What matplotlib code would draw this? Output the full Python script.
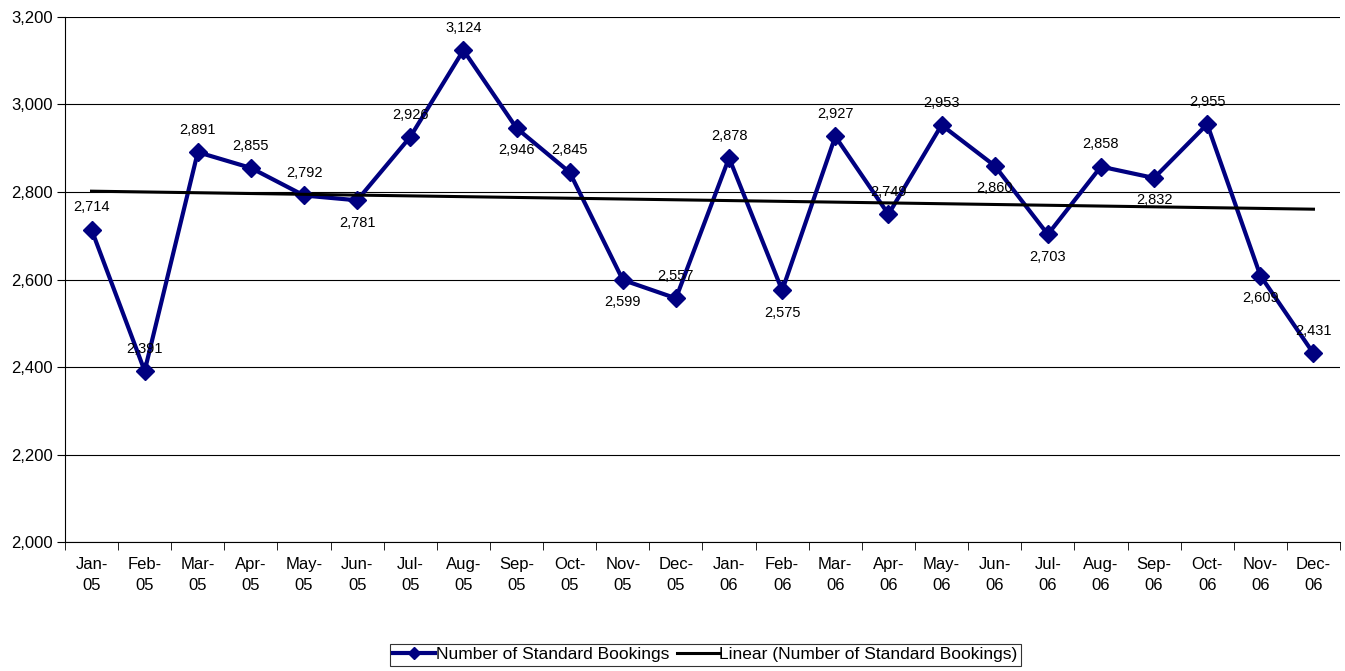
from matplotlib import pyplot as plt
import numpy as np

plt.rcParams['font.family'] = ['Liberation Sans', 'DejaVu Sans']

months = ['Jan-\n05', 'Feb-\n05', 'Mar-\n05', 'Apr-\n05', 'May-\n05', 'Jun-\n05',
          'Jul-\n05', 'Aug-\n05', 'Sep-\n05', 'Oct-\n05', 'Nov-\n05', 'Dec-\n05',
          'Jan-\n06', 'Feb-\n06', 'Mar-\n06', 'Apr-\n06', 'May-\n06', 'Jun-\n06',
          'Jul-\n06', 'Aug-\n06', 'Sep-\n06', 'Oct-\n06', 'Nov-\n06', 'Dec-\n06']
bookings = [2714, 2391, 2891, 2855, 2792, 2781, 2926, 3124, 2946, 2845, 2599, 2557,
            2878, 2575, 2927, 2749, 2953, 2860, 2703, 2858, 2832, 2955, 2609, 2431]
# where each data label sits relative to its point: 1 above, -1 below
label_side = [1, 1, 1, 1, 1, -1, 1, 1, -1, 1, -1, 1,
              1, -1, 1, 1, 1, -1, -1, 1, -1, 1, -1, 1]

x = np.arange(len(bookings))
slope, intercept = np.polyfit(x, bookings, 1)
trend = slope * x + intercept

fig = plt.figure(figsize=(13.45, 6.71), dpi=100)
ax = fig.add_axes([0.0483, 0.1922, 0.948, 0.7825])

ax.plot(x, bookings, color='#000080', lw=3, marker='D', ms=9,
        label='Number of Standard Bookings', zorder=3)
ax.plot(x, trend, color='black', lw=2.2,
        label='Linear (Number of Standard Bookings)', zorder=4)

for xi, v, s in zip(x, bookings, label_side):
    ax.annotate(f'{v:,}', (xi, v), xytext=(0, 16 * s), textcoords='offset points',
                ha='center', va='center', fontsize=10.5, zorder=5)

ax.set_xlim(-0.5, len(bookings) - 0.5)
ax.set_ylim(2000, 3200)
ax.set_yticks(np.arange(2000, 3201, 200))
ax.yaxis.set_major_formatter(plt.FuncFormatter(lambda v, p: f'{int(v):,}'))
ax.set_xticks(x)
ax.set_xticklabels(months, fontsize=12, linespacing=1.45)
ax.set_xticks(np.arange(-0.5, len(bookings)), minor=True)
ax.tick_params(axis='x', which='major', length=0, pad=11)
ax.tick_params(axis='x', which='minor', length=6, color='black')
ax.tick_params(axis='y', labelsize=12, length=6, pad=3)
ax.grid(axis='y', color='black', lw=0.8)
ax.set_axisbelow(True)
for side in ['top', 'right']:
    ax.spines[side].set_visible(False)

leg = fig.legend(loc='lower center', bbox_to_anchor=(0.5245, 0.0), ncol=2,
                 fontsize=12.5, frameon=True, fancybox=False, edgecolor='black',
                 handlelength=2.4, handletextpad=0.05, columnspacing=0.45,
                 borderpad=0.2, borderaxespad=0.3)
leg.get_frame().set_linewidth(0.8)
leg.legend_handles[0].set_markersize(6)

fig.savefig('out.png', dpi=100)
